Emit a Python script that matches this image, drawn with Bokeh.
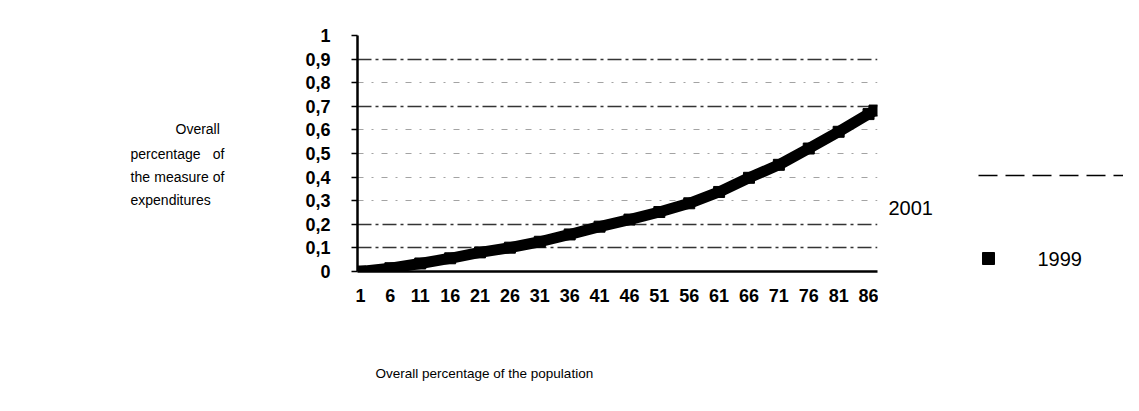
from bokeh.plotting import figure
from bokeh.layouts import row, column
from bokeh.models import Range1d, FixedTicker, Grid
from bokeh.core.properties import value
from bokeh.embed import file_html
from bokeh.resources import INLINE

# ---- data ----
population_pct = [1, 6, 11, 16, 21, 26, 31, 36, 41, 46, 51, 56, 61, 66, 71, 76, 81, 86, 87]
expenditure_1999 = [0.0, 0.014, 0.034, 0.056, 0.081, 0.101, 0.126, 0.157, 0.190, 0.220,
                    0.252, 0.289, 0.337, 0.397, 0.452, 0.521, 0.592, 0.667, 0.682]
expenditure_2001 = [0.0, 0.017, 0.038, 0.061, 0.086, 0.107, 0.132, 0.164, 0.197, 0.228,
                    0.261, 0.299, 0.348, 0.409, 0.464, 0.534, 0.605, 0.679, 0.694]
x_ticks = [1, 6, 11, 16, 21, 26, 31, 36, 41, 46, 51, 56, 61, 66, 71, 76, 81, 86]
x_tick_labels = ["1", "6", "11", "16", "21", "26", "31", "36", "41", "46", "51", "56",
                 "61", "66", "71", "76", "81", "86"]
y_ticks = [0, 0.1, 0.2, 0.3, 0.4, 0.5, 0.6, 0.7, 0.8, 0.9, 1]
y_tick_labels = ["0", "0,1", "0,2", "0,3", "0,4", "0,5", "0,6", "0,7", "0,8", "0,9", "1"]
strong_grid = [0.1, 0.2, 0.7, 0.9, 1]
faint_grid = [0.3, 0.4, 0.5, 0.6, 0.8]
series_names = ["2001", "1999"]
y_title_lines = [["Overall"], ["percentage", "of"], ["the", "measure", "of"], ["expenditures"]]
x_title = "Overall percentage of the population"

FONT = "Liberation Sans"
FS = "14px"
LEG_FS = "20px"
TOTAL_W = 1123
HR = 345          # height of the top row
HT = 50           # height of the bottom title strip
FL, FR, FT, FB = 357, 877, 35, 271   # main frame edges (page px)


def side_panel(x0, width):
    f = figure(width=width, height=HR, output_backend="svg", toolbar_location=None,
               x_range=Range1d(x0, x0 + width), y_range=Range1d(FB, FT),
               min_border_left=0, min_border_right=0,
               min_border_top=FT, min_border_bottom=HR - FB, outline_line_color=None)
    f.axis.visible = False
    f.grid.visible = False
    return f


txt = dict(text_font=value(FONT), text_font_size=FS, text_baseline="middle", text_color="black")

# ---------------- left text panel ----------------
LW = 260
left = side_panel(0, LW)
rows_y = [128, 153, 176, 199]
x_l, x_r = 130, 224
left.text(x=[175], y=[rows_y[0]], text=y_title_lines[0], text_align="left", **txt)
left.text(x=[x_l], y=[rows_y[1]], text=[y_title_lines[1][0]], text_align="left", **txt)
left.text(x=[x_r], y=[rows_y[1]], text=[y_title_lines[1][1]], text_align="right", **txt)
left.text(x=[x_l], y=[rows_y[2]], text=[y_title_lines[2][0]], text_align="left", **txt)
left.text(x=[181], y=[rows_y[2]], text=[y_title_lines[2][1]], text_align="center", **txt)
left.text(x=[x_r], y=[rows_y[2]], text=[y_title_lines[2][2]], text_align="right", **txt)
left.text(x=[x_l], y=[rows_y[3]], text=y_title_lines[3], text_align="left", **txt)

# ---------------- main chart ----------------
MX0 = LW
MW = 878 - MX0
p = figure(width=MW, height=HR, output_backend="svg", toolbar_location=None,
           x_range=Range1d(0.5, 87.5), y_range=Range1d(0, 1.0),
           min_border_left=FL - MX0, min_border_right=MX0 + MW - FR,
           min_border_top=FT, min_border_bottom=HR - FB)
p.outline_line_color = None

p.xgrid.grid_line_color = None
p.ygrid.ticker = FixedTicker(ticks=strong_grid)
p.ygrid.grid_line_color = "#111111"
p.ygrid.grid_line_dash = "14 4 3 4"
p.ygrid.grid_line_width = 1.4
p.ygrid.grid_line_alpha = 0.85
faint = Grid(dimension=1, ticker=FixedTicker(ticks=faint_grid), grid_line_color="#333333",
             grid_line_dash="6 8 2 8", grid_line_width=1.2, grid_line_alpha=0.45)
p.add_layout(faint)

p.yaxis.ticker = FixedTicker(ticks=y_ticks)
p.yaxis.major_label_overrides = dict(zip(y_ticks, y_tick_labels))
p.xaxis.ticker = FixedTicker(ticks=x_ticks)
p.xaxis.major_label_overrides = dict(zip(x_ticks, x_tick_labels))
for ax in (p.xaxis, p.yaxis):
    ax.axis_line_color = "black"
    ax.axis_line_width = 2.5
    ax.major_tick_line_color = "black"
    ax.major_tick_line_width = 1.5
    ax.minor_tick_line_color = None
    ax.major_label_text_font = FONT
    ax.major_label_text_font_style = "bold"
    ax.major_label_text_font_size = "18px"
    ax.major_label_text_color = "black"
p.yaxis.major_tick_out = 6
p.yaxis.major_tick_in = 0
p.yaxis.major_label_standoff = 21
p.xaxis.major_tick_out = 0
p.xaxis.major_tick_in = 0
p.xaxis.major_label_standoff = 17

# series
p.line(population_pct, expenditure_1999, line_color="black", line_width=11)
p.scatter(population_pct, expenditure_1999, marker="square", size=11, color="black")
p.line(population_pct, expenditure_2001, line_color="black", line_width=3, line_dash="8 3")

# ---------------- legend panel ----------------
RX0 = MX0 + MW
RW = TOTAL_W - RX0
leg = side_panel(RX0, RW)
leg.line(x=[978, TOTAL_W], y=[175, 175], line_color="black", line_width=1.6, line_dash="19 8")
leg.text(x=[888], y=[207], text=[series_names[0]], text_align="left",
         text_font=value(FONT), text_font_size=LEG_FS, text_baseline="middle", text_color="black")
leg.scatter(x=[988], y=[258], marker="square", size=12, color="black")
leg.text(x=[1037], y=[258], text=[series_names[1]], text_align="left",
         text_font=value(FONT), text_font_size=LEG_FS, text_baseline="middle", text_color="black")

# ---------------- x title strip ----------------
bottom = figure(width=TOTAL_W, height=HT, output_backend="svg", toolbar_location=None,
                x_range=Range1d(0, TOTAL_W), y_range=Range1d(HR + HT, HR),
                min_border=0, outline_line_color=None)
bottom.axis.visible = False
bottom.grid.visible = False
bottom.text(x=[375], y=[373], text=[x_title], text_align="left",
            text_font=value(FONT), text_font_size="13.5px", text_baseline="middle",
            text_color="black")

layout = column(row(left, p, leg), bottom)
open("out.html", "w").write(file_html(layout, INLINE))
